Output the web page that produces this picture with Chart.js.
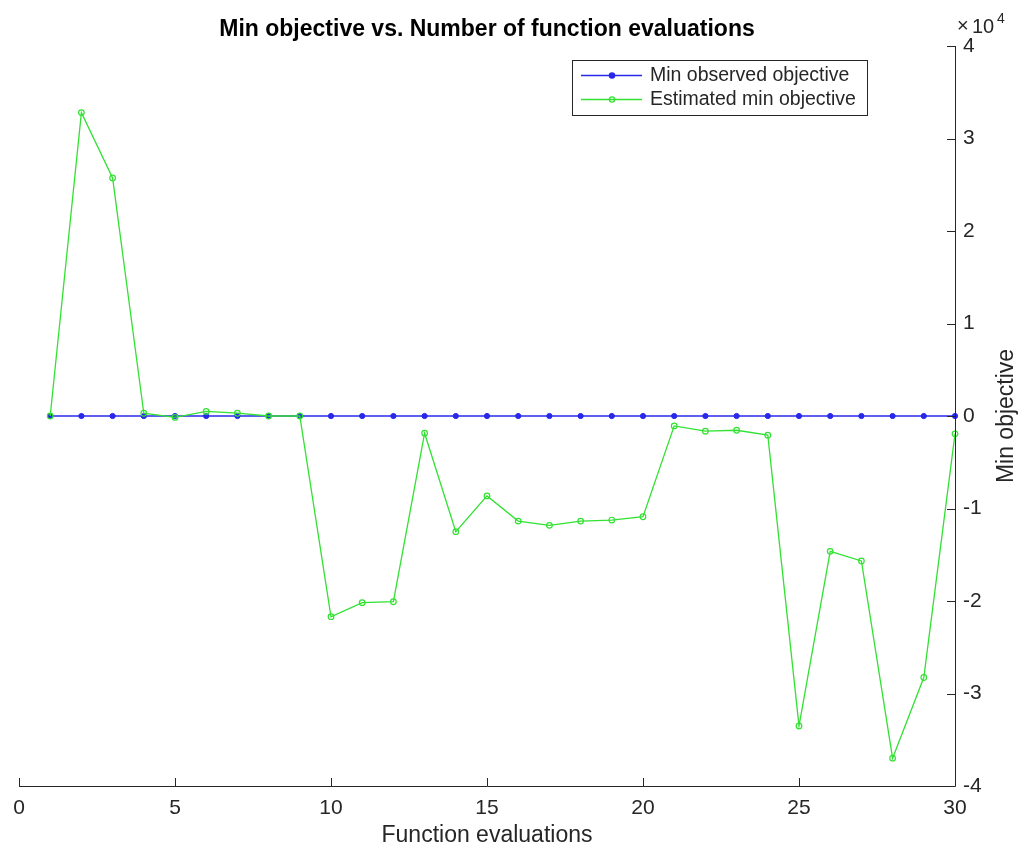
<!DOCTYPE html>
<html lang="en">

<head>
    <meta charset="UTF-8">
    <title>Min objective vs. Number of function evaluations</title>
    <script src="https://cdn.jsdelivr.net/npm/chart.js"></script>
    <style>
        body {
            margin: 0;
            background: #fff;
        }
    </style>
</head>

<body>
    <canvas id="objChart" width="1020" height="850"></canvas>

    <script>
        // Function evaluation index
        const evaluations = [1, 2, 3, 4, 5, 6, 7, 8, 9, 10, 11, 12, 13, 14, 15,
            16, 17, 18, 19, 20, 21, 22, 23, 24, 25, 26, 27, 28, 29, 30];

        // Min observed objective (sits on zero at this scale)
        const minObserved = [0, 0, 0, 0, 0, 0, 0, 0, 0, 0, 0, 0, 0, 0, 0,
            0, 0, 0, 0, 0, 0, 0, 0, 0, 0, 0, 0, 0, 0, 0];

        // Estimated min objective
        const estimatedMin = [0, 32800, 25740, 300, -150, 500, 300, 0, 0, -21700,
            -20180, -20080, -1860, -12500, -8640, -11360, -11820, -11360, -11250, -10890,
            -1070, -1640, -1540, -2070, -33500, -14630, -15670, -36990, -28270, -1930];

        const xTicks = [0, 5, 10, 15, 20, 25, 30];
        const yTicks = [-40000, -30000, -20000, -10000, 0, 10000, 20000, 30000, 40000];

        const axisColor = '#262626';
        const blue = 'rgb(40, 40, 235)';
        const green = 'rgb(50, 225, 50)';

        const toPoints = (ys) => evaluations.map((x, i) => ({ x: x, y: ys[i] }));

        // Draws the MATLAB-like decorations: box lines, inward ticks, titles, legend
        const matlabLook = {
            id: 'matlabLook',
            afterDraw(chart) {
                const ctx = chart.ctx;
                const area = chart.chartArea;
                const xs = chart.scales.x;
                const ys = chart.scales.y;
                ctx.save();
                ctx.strokeStyle = axisColor;
                ctx.lineWidth = 1;

                // axis lines (bottom + right)
                ctx.beginPath();
                ctx.moveTo(area.left, area.bottom + 0.5);
                ctx.lineTo(area.right + 0.5, area.bottom + 0.5);
                ctx.lineTo(area.right + 0.5, area.top);
                ctx.stroke();

                // inward ticks
                ctx.beginPath();
                xTicks.forEach(v => {
                    const px = Math.round(xs.getPixelForValue(v)) + 0.5;
                    ctx.moveTo(px, area.bottom);
                    ctx.lineTo(px, area.bottom - 8);
                });
                yTicks.forEach(v => {
                    const py = Math.round(ys.getPixelForValue(v)) + 0.5;
                    ctx.moveTo(area.right, py);
                    ctx.lineTo(area.right - 8, py);
                });
                ctx.stroke();

                ctx.fillStyle = '#000';
                ctx.textAlign = 'center';
                ctx.textBaseline = 'middle';

                // title
                ctx.font = 'bold 23px "Liberation Sans", Arial, sans-serif';
                ctx.fillText('Min objective vs. Number of function evaluations', (area.left + area.right) / 2, 30);

                // axis titles
                ctx.fillStyle = axisColor;
                ctx.font = '23px "Liberation Sans", Arial, sans-serif';
                ctx.fillText('Function evaluations', (area.left + area.right) / 2, 836);

                ctx.save();
                ctx.translate(1007, (area.top + area.bottom) / 2);
                ctx.rotate(-Math.PI / 2);
                ctx.fillText('Min objective', 0, 0);
                ctx.restore();

                // exponent label
                ctx.textAlign = 'left';
                ctx.font = '20px "Liberation Sans", Arial, sans-serif';
                ctx.fillText('\u00d7', 957, 26);
                ctx.fillText('10', 972, 27);
                ctx.font = '14px "Liberation Sans", Arial, sans-serif';
                ctx.fillText('4', 997, 19);

                // legend
                const lx = 572, ly = 60, lw = 295, lh = 55;
                ctx.fillStyle = '#fff';
                ctx.fillRect(lx, ly, lw, lh);
                ctx.strokeStyle = axisColor;
                ctx.strokeRect(lx + 0.5, ly + 0.5, lw, lh);
                const rows = [
                    { label: 'Min observed objective', color: blue, filled: true, y: 75 },
                    { label: 'Estimated min objective', color: green, filled: false, y: 99 }
                ];
                ctx.font = '19.5px "Liberation Sans", Arial, sans-serif';
                rows.forEach(r => {
                    ctx.strokeStyle = r.color;
                    ctx.lineWidth = 1.3;
                    ctx.beginPath();
                    ctx.moveTo(581, r.y + 0.5);
                    ctx.lineTo(642, r.y + 0.5);
                    ctx.stroke();
                    ctx.beginPath();
                    ctx.arc(612, r.y + 0.5, 2.6, 0, Math.PI * 2);
                    if (r.filled) {
                        ctx.fillStyle = r.color;
                        ctx.fill();
                    }
                    ctx.stroke();
                    ctx.fillStyle = axisColor;
                    ctx.fillText(r.label, 650, r.y + 1);
                });
                ctx.restore();
            }
        };

        const objChart = new Chart(document.getElementById('objChart'), {
            type: 'line',
            data: {
                datasets: [{
                    label: 'Min observed objective',
                    data: toPoints(minObserved),
                    borderColor: blue,
                    backgroundColor: blue,
                    borderWidth: 1.3,
                    pointRadius: 2.6,
                    pointBorderWidth: 1,
                    tension: 0,
                    clip: 6,
                    order: 2
                }, {
                    label: 'Estimated min objective',
                    data: toPoints(estimatedMin),
                    borderColor: green,
                    backgroundColor: 'rgba(255, 255, 255, 0)',
                    borderWidth: 1.3,
                    pointRadius: 2.8,
                    pointBorderWidth: 1.2,
                    pointBorderColor: green,
                    tension: 0,
                    clip: 6,
                    order: 1
                }]
            },
            options: {
                responsive: false,
                animation: false,
                events: [],
                layout: { padding: { top: 46, left: 19, right: 0, bottom: 0 } },
                plugins: {
                    legend: { display: false },
                    title: { display: false },
                    tooltip: { enabled: false }
                },
                scales: {
                    x: {
                        type: 'linear',
                        min: 0,
                        max: 30,
                        afterFit: (s) => { s.height = 64; },
                        afterBuildTicks: (s) => { s.ticks = xTicks.map(v => ({ value: v })); },
                        border: { display: false },
                        grid: { display: false, drawTicks: false },
                        ticks: {
                            padding: 10,
                            color: axisColor,
                            maxRotation: 0,
                            font: { family: '"Liberation Sans", Arial, sans-serif', size: 21 }
                        }
                    },
                    y: {
                        position: 'right',
                        min: -40000,
                        max: 40000,
                        afterFit: (s) => { s.width = 65; },
                        afterBuildTicks: (s) => { s.ticks = yTicks.map(v => ({ value: v })); },
                        border: { display: false },
                        grid: { display: false, drawTicks: false },
                        ticks: {
                            padding: 8,
                            color: axisColor,
                            callback: (v) => String(v / 10000),
                            font: { family: '"Liberation Sans", Arial, sans-serif', size: 21 }
                        }
                    }
                }
            },
            plugins: [matlabLook]
        });
    </script>
</body>

</html>
